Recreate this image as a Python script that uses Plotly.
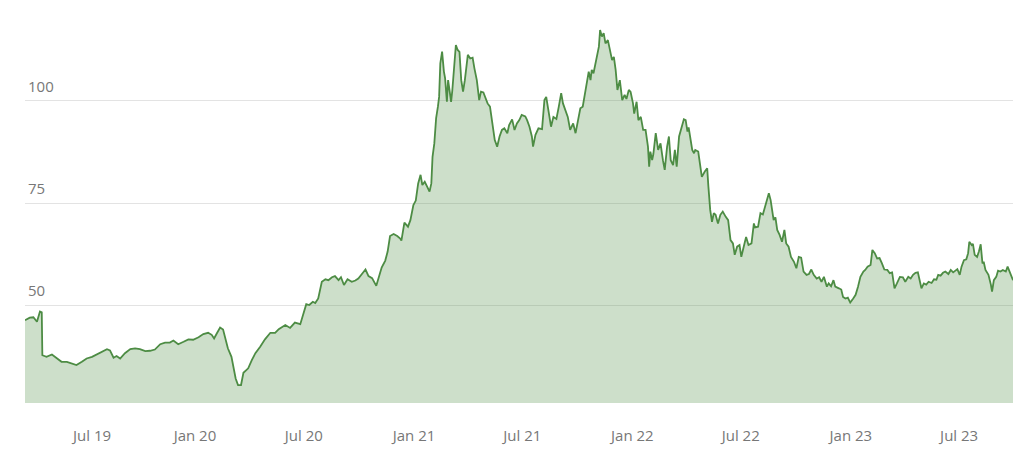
import pandas as pd
import plotly.graph_objects as go

# Days since 2019-03-23 and the corresponding values
start_date = "2019-03-23"
days = [
    0, 8, 14, 20, 25, 28, 29, 36, 45, 53, 61, 70, 78, 86, 95, 103, 112, 120, 128, 137,
    142, 148, 153, 159, 167, 176, 184, 192, 201, 209,
    217, 226, 234, 242, 248, 256, 265, 273, 281, 290, 298, 306, 312, 316, 320, 326, 331,
    334, 339, 345, 348, 352, 356, 361, 365, 373, 379, 385, 393, 401, 410, 418,
    424, 435, 443, 451, 460, 466, 470, 475, 481, 485, 490, 496, 502, 507, 513, 518, 524,
    528, 533, 539, 546, 552, 557, 563, 569, 574, 580, 587, 591, 596, 602, 606, 610, 616,
    622, 627,
    629, 634, 640, 644, 649, 653, 657, 661, 664, 668, 672, 676, 679, 681, 684, 687, 690,
    692, 694, 697, 700, 702, 705, 707, 709, 712, 714, 718, 720, 723, 726, 729, 732, 735,
    740, 744, 748, 751, 755, 759, 762, 766, 770, 773, 777, 782, 785, 789, 793, 797, 801,
    806, 809, 814, 818, 822, 826, 830, 836,
    839, 843, 847, 849, 853, 858, 864, 868, 871, 875, 879, 883, 888, 892, 896, 899, 903,
    907, 911, 916, 920, 923, 928, 932, 936, 939, 942, 945, 947, 950, 955, 959, 961, 964,
    967, 970, 974, 977, 981, 984, 987, 990, 994, 998, 1002, 1005, 1009, 1012, 1016, 1018,
    1022, 1025, 1029, 1033, 1037, 1041, 1043,
    1045, 1048, 1050, 1054, 1058, 1062, 1066, 1069, 1073, 1076, 1079, 1083, 1086, 1089,
    1093, 1097, 1101, 1104, 1107, 1109, 1112, 1115, 1118, 1120, 1125, 1129, 1131, 1136,
    1140, 1142, 1145, 1148, 1151, 1154, 1158, 1162, 1166, 1171, 1175, 1179, 1183, 1186,
    1190, 1194, 1197, 1201, 1205, 1209, 1214, 1218, 1220, 1225, 1229, 1233, 1236, 1240,
    1243, 1246, 1248, 1251, 1254, 1257, 1261, 1265, 1269, 1272, 1276, 1280, 1285, 1289,
    1293, 1297, 1301, 1306, 1310, 1314, 1318, 1323, 1327, 1331, 1335, 1340, 1343, 1347,
    1351, 1354, 1360, 1364, 1367, 1371, 1375, 1379, 1384, 1388, 1392, 1396, 1401, 1404,
    1408, 1413, 1416, 1420, 1424, 1428, 1432, 1436, 1441, 1445, 1449, 1453, 1457, 1462,
    1467, 1471, 1476, 1480, 1484, 1488, 1492, 1495, 1498, 1502, 1506, 1510, 1515, 1519,
    1523, 1526, 1530, 1534, 1538, 1543, 1547, 1551, 1555, 1558, 1562, 1565, 1569, 1573,
    1576, 1578, 1582, 1584, 1587, 1591, 1594, 1597, 1600, 1602, 1605, 1610, 1614, 1616,
    1619, 1623, 1626, 1630, 1634, 1639, 1642, 1647, 1651,
]
values = [
    46.3, 46.9, 47.0, 45.9, 48.4, 48.2, 37.7, 37.3, 37.9, 37.0, 36.1, 36.1, 35.7, 35.3,
    36.1, 36.9, 37.3, 37.9, 38.6, 39.2,
    38.9, 37.1, 37.5, 36.9, 38.2, 39.2, 39.4, 39.2, 38.7, 38.8,
    39.1, 40.4, 40.8, 40.8, 41.3, 40.4, 41.0, 41.6, 41.5, 42.1, 42.9, 43.2, 42.7, 41.8,
    42.9, 44.5, 44.0,
    42.0, 39.4, 37.3, 34.9, 32.0, 30.4, 30.4, 33.4, 34.5, 36.5, 38.2, 39.8, 41.6, 43.2, 43.2,
    44.1, 45.1, 44.4, 45.7, 45.3, 48.0, 50.2, 50.0, 50.8, 50.5, 51.6, 55.7, 56.3, 56.1,
    56.8, 57.1, 56.1,
    56.8, 54.9, 56.3, 55.7, 56.0, 56.5, 57.6, 58.7, 57.1, 56.6, 54.7, 56.9, 59.2, 60.9,
    63.1, 66.9, 67.4,
    66.9, 66.3,
    65.8, 70.2, 69.2, 70.8, 74.5, 75.6, 79.8, 81.9, 79.4, 80.2, 79.0, 77.8, 79.8, 86.3,
    89.6, 95.8, 98.6,
    101.0, 109.2, 112.1, 107.2, 105.6, 99.8, 105.1, 103.1, 99.8, 102.5, 110.8, 113.7,
    112.5, 112.0, 105.1, 102.3, 105.1,
    111.3, 110.4, 110.6, 108.0, 105.1, 100.2, 102.3, 102.1, 100.6, 99.4, 98.6, 92.9, 90.4,
    88.8, 91.3, 92.9, 93.3,
    92.1, 94.1, 95.5, 92.9, 94.5, 95.3, 96.6, 96.2,
    95.3, 93.7, 91.3, 88.8, 91.7, 93.3, 93.1, 100.2, 101.0, 97.8, 93.7, 96.1, 95.6, 98.6,
    101.9, 99.4, 97.8,
    96.1, 92.9, 94.5, 92.1, 94.5, 98.2, 98.6, 101.9, 105.1, 107.2, 105.1, 107.6, 106.8,
    110.8, 113.3, 117.4, 115.8,
    116.6, 114.1, 114.9, 112.9, 110.0, 110.8, 107.6, 102.7, 105.1, 100.2, 101.5, 100.5,
    102.7, 102.2, 99.4, 96.9,
    99.8, 95.3, 96.1, 92.9, 92.9, 88.8, 83.9,
    87.6, 85.5, 87.0, 92.1, 88.0, 89.6, 85.5, 83.1, 88.8, 91.3, 85.5, 84.3, 88.0, 83.9,
    91.3, 93.7, 95.5, 95.3, 92.5, 93.5, 90.2, 88.0, 87.2, 88.0, 87.6, 83.9, 81.4, 82.7,
    83.5, 79.0, 73.3, 70.4, 72.5, 72.1, 70.0, 72.1, 72.9, 71.6, 70.8, 65.9, 65.1, 62.3,
    64.3, 64.7, 61.8, 64.3, 66.7, 64.7, 65.1, 70.0, 69.0, 69.2, 72.5, 72.2, 73.7, 75.7,
    77.4, 75.7, 74.1, 70.8, 71.5, 68.4, 67.2, 65.5, 68.4, 65.1, 64.3, 61.8, 60.6, 59.0,
    61.8, 61.6, 58.2, 57.4, 57.6, 58.7, 57.4, 56.5, 56.8, 55.7, 56.9, 54.5, 55.3, 54.6,
    56.1, 54.5, 54.1, 53.8, 52.0, 51.6, 51.8, 50.6, 51.6, 52.5, 54.5, 56.9, 58.2, 58.6,
    59.4, 59.8, 63.5, 62.7, 61.4, 61.5, 60.2, 58.7, 58.6, 57.8, 58.0, 54.1, 55.3, 56.9,
    56.8, 55.7, 56.9, 56.5, 57.4, 57.9, 58.0, 55.7, 54.1, 55.3, 55.0, 55.7, 55.4, 56.3,
    56.2, 57.4, 57.2, 57.9, 58.2, 57.6, 58.6, 58.0, 58.6, 58.8, 57.4, 59.4, 61.0, 61.2,
    62.7, 65.5, 64.7, 65.0, 62.3, 61.8, 63.1, 64.9, 60.2, 60.6, 58.6, 57.4, 55.0, 53.3,
    56.1, 56.9, 58.4, 58.2, 58.6, 58.2, 59.4, 57.8, 56.1,
]

tick_dates = ["2019-07-13", "2020-01-01", "2020-07-01", "2021-01-01", "2021-07-01",
              "2022-01-01", "2022-07-01", "2023-01-01", "2023-07-01"]
tick_labels = ["Jul 19", "Jan 20", "Jul 20", "Jan 21", "Jul 21",
               "Jan 22", "Jul 22", "Jan 23", "Jul 23"]
y_ticks = [50, 75, 100]

dates = pd.to_datetime(start_date) + pd.to_timedelta(days, unit="D")

fig = go.Figure()
fig.add_trace(go.Scatter(
    x=dates, y=values, mode="lines",
    line=dict(color="#4d8c44", width=1.8),
    fill="tozeroy", fillcolor="rgba(76,140,64,0.28)",
    hoverinfo="skip",
))

font_family = "Open Sans, Lato, sans-serif"
fig.update_layout(
    width=1024, height=455,
    margin=dict(l=25, r=11, t=3, b=52),
    paper_bgcolor="white", plot_bgcolor="white",
    showlegend=False,
    font=dict(family=font_family, color="#777777", size=15),
    xaxis=dict(
        range=[dates[0], dates[-1]],
        tickvals=tick_dates, ticktext=tick_labels,
        showgrid=False, zeroline=False, showline=False,
        ticks="", ticklabelstandoff=22,
        tickfont=dict(size=15, color="#777777"),
    ),
    yaxis=dict(
        range=[26, 124],
        tickvals=y_ticks,
        showgrid=True, gridcolor="#e3e3e3", gridwidth=1,
        zeroline=False, showline=False, ticks="",
        ticklabelposition="inside top",
        ticklabelshift=-4,
        tickfont=dict(size=15, color="#777777"),
    ),
)

fig.write_html("out.html")
